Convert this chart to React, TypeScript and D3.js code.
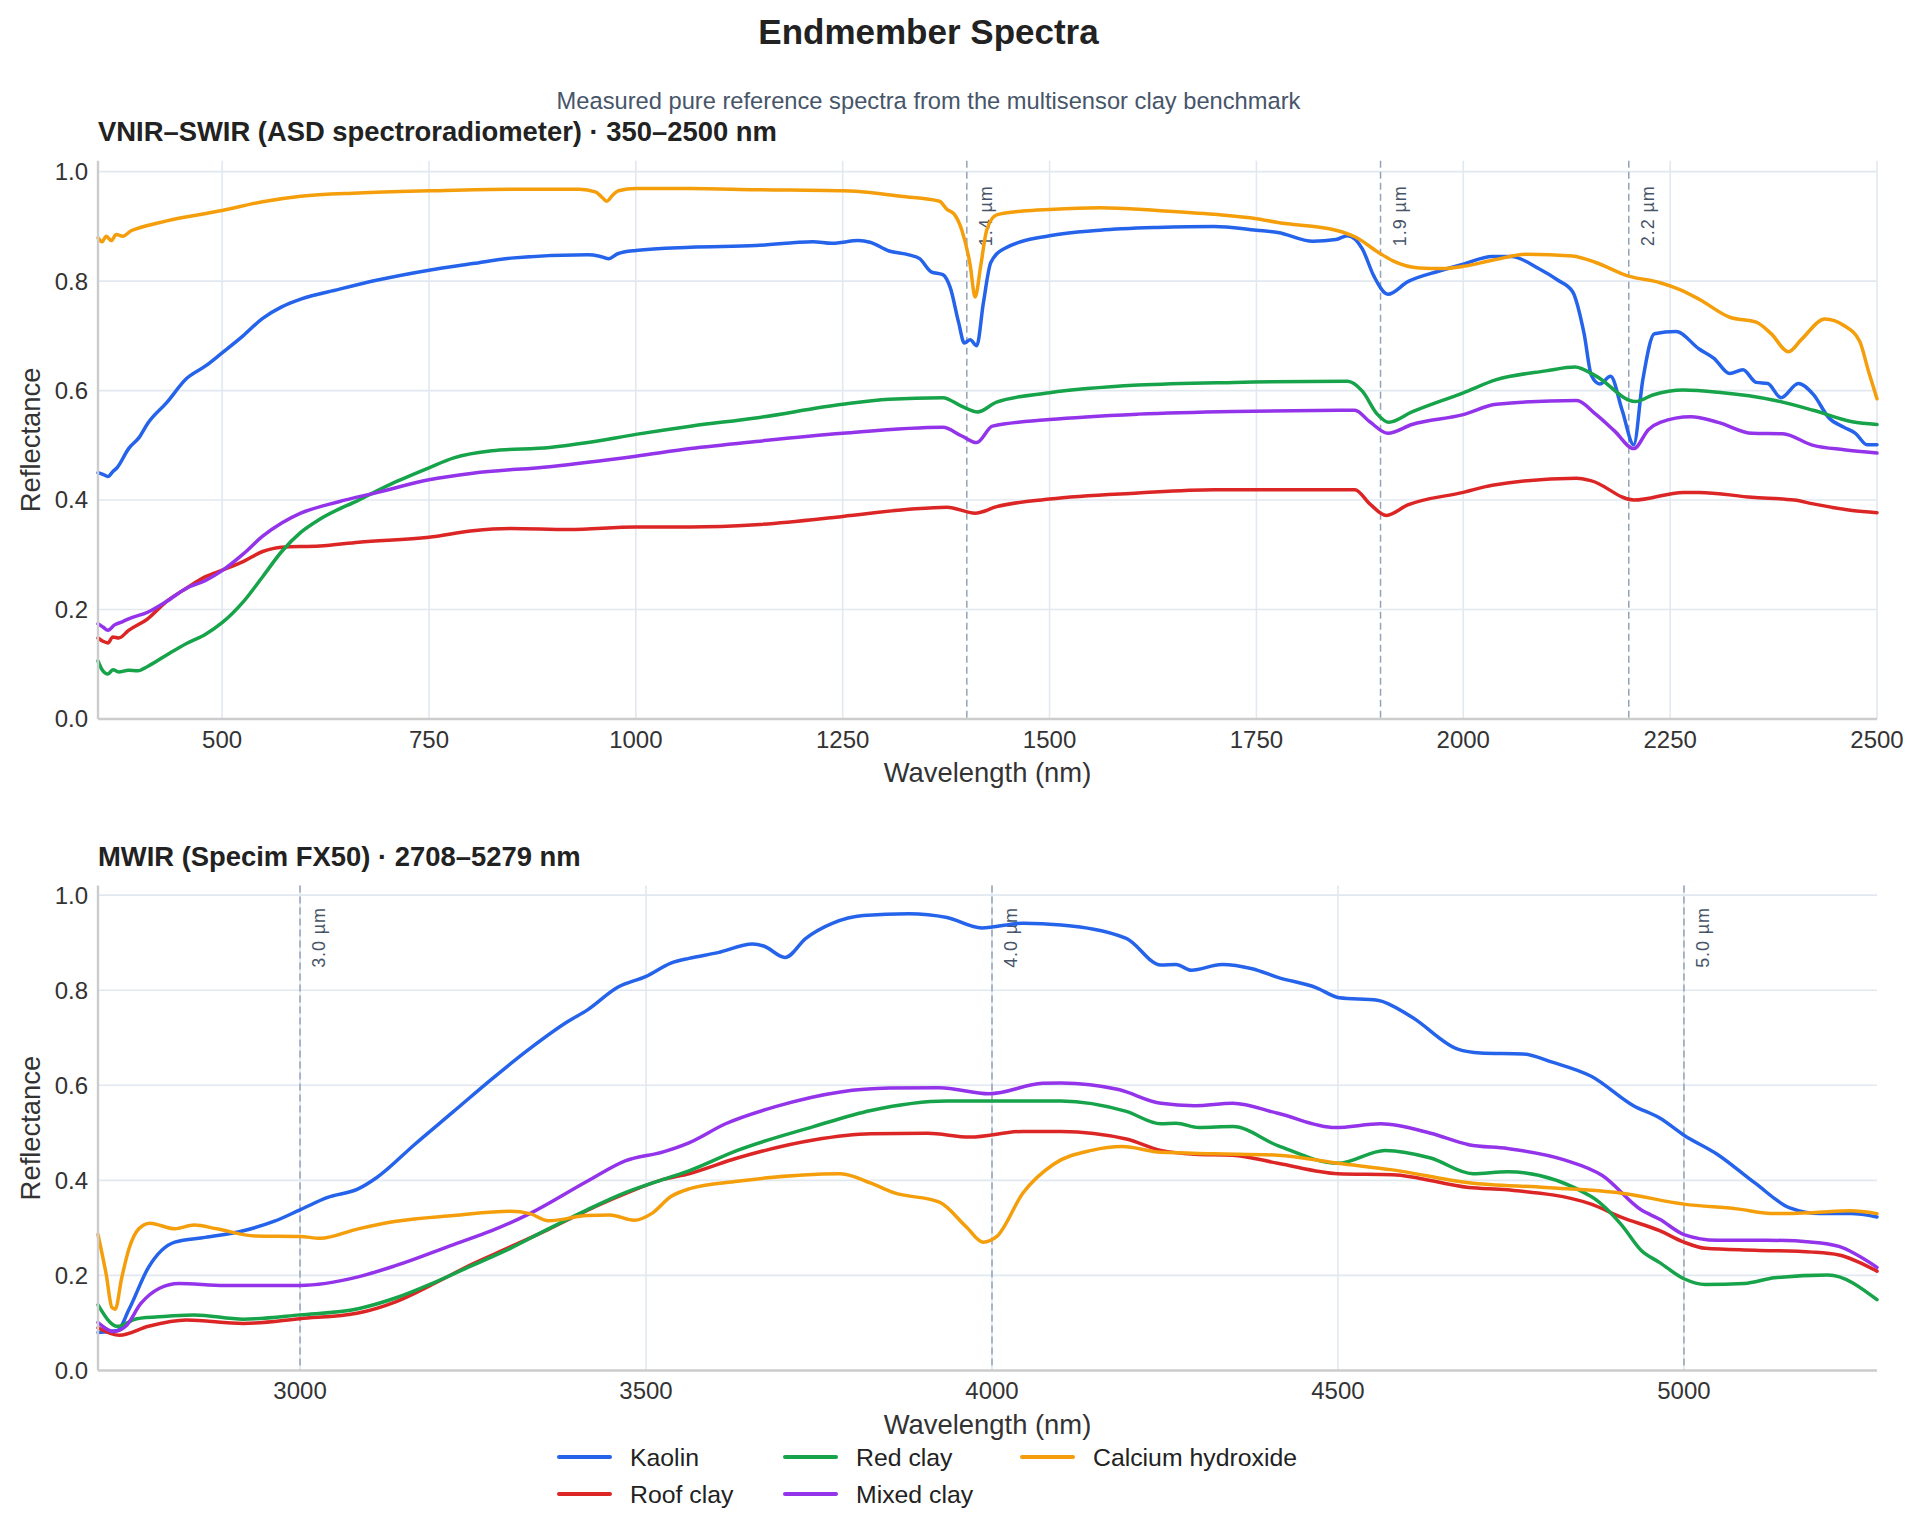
import * as d3 from 'd3';

type Pt = [number, number];

// ---- VNIR–SWIR spectra (ASD), wavelength nm / reflectance ----
const vnirKaolin: Pt[] = [
  [350, 0.450], [356, 0.447], [362, 0.443], [368, 0.452], [373, 0.459], [387, 0.494], [400, 0.515],
  [410, 0.540], [433, 0.578], [457, 0.622], [480, 0.645], [500, 0.669], [526, 0.701], [549, 0.732],
  [572, 0.753], [595, 0.767], [641, 0.785], [688, 0.802], [750, 0.820], [803, 0.832], [849, 0.842],
  [942, 0.848], [955, 0.846], [967, 0.841], [978, 0.850], [1000, 0.856], [1066, 0.862], [1145, 0.865],
  [1214, 0.872], [1237, 0.869], [1269, 0.874], [1283, 0.871], [1306, 0.855], [1330, 0.848], [1343, 0.841],
  [1357, 0.817], [1371, 0.812], [1380, 0.788], [1390, 0.725], [1397, 0.687], [1404, 0.693], [1412, 0.682],
  [1420, 0.760], [1429, 0.834], [1445, 0.859], [1500, 0.883], [1561, 0.893], [1630, 0.898], [1699, 0.900],
  [1750, 0.893], [1776, 0.889], [1818, 0.873], [1846, 0.876], [1860, 0.883], [1878, 0.859], [1892, 0.809],
  [1909, 0.776], [1933, 0.799], [1970, 0.818], [2000, 0.831], [2035, 0.845], [2058, 0.845], [2091, 0.823],
  [2114, 0.802], [2132, 0.781], [2146, 0.704], [2155, 0.627], [2165, 0.612], [2178, 0.626], [2192, 0.564],
  [2206, 0.501], [2217, 0.620], [2231, 0.704], [2257, 0.708], [2285, 0.676], [2303, 0.659], [2322, 0.631],
  [2338, 0.638], [2354, 0.615], [2368, 0.613], [2384, 0.587], [2405, 0.613], [2423, 0.593], [2442, 0.550],
  [2460, 0.533], [2474, 0.522], [2488, 0.501], [2500, 0.501],
];

const vnirRoofClay: Pt[] = [
  [350, 0.148], [356, 0.142], [362, 0.139], [368, 0.150], [375, 0.148], [387, 0.162], [410, 0.183],
  [433, 0.215], [457, 0.239], [480, 0.260], [500, 0.272], [526, 0.288], [549, 0.306], [572, 0.314],
  [618, 0.316], [665, 0.323], [750, 0.332], [803, 0.344], [849, 0.348], [919, 0.346], [1000, 0.351],
  [1066, 0.351], [1145, 0.355], [1250, 0.370], [1330, 0.383], [1376, 0.387], [1410, 0.376], [1436, 0.388],
  [1500, 0.402], [1607, 0.413], [1699, 0.419], [1869, 0.419], [1887, 0.393], [1907, 0.372], [1933, 0.391],
  [2000, 0.414], [2035, 0.427], [2137, 0.440], [2155, 0.435], [2206, 0.400], [2266, 0.414], [2285, 0.414],
  [2349, 0.405], [2400, 0.400], [2423, 0.393], [2470, 0.381], [2500, 0.377],
];

const vnirRedClay: Pt[] = [
  [350, 0.106], [355, 0.090], [362, 0.082], [368, 0.090], [375, 0.086], [387, 0.089], [398, 0.088],
  [410, 0.096], [433, 0.117], [457, 0.138], [480, 0.155], [500, 0.176], [526, 0.215], [549, 0.260],
  [572, 0.306], [595, 0.341], [618, 0.365], [665, 0.400], [711, 0.434], [750, 0.459], [780, 0.477],
  [826, 0.490], [896, 0.496], [942, 0.505], [1000, 0.520], [1066, 0.535], [1145, 0.550], [1250, 0.575],
  [1306, 0.584], [1371, 0.587], [1394, 0.571], [1413, 0.561], [1436, 0.579], [1500, 0.596], [1607, 0.610],
  [1723, 0.615], [1860, 0.617], [1878, 0.599], [1896, 0.557], [1910, 0.542], [1938, 0.561], [2000, 0.596],
  [2040, 0.620], [2100, 0.636], [2135, 0.643], [2160, 0.627], [2208, 0.580], [2229, 0.592], [2266, 0.601],
  [2308, 0.597], [2377, 0.582], [2423, 0.564], [2470, 0.543], [2500, 0.538],
];

const vnirMixedClay: Pt[] = [
  [350, 0.174], [356, 0.168], [362, 0.162], [370, 0.172], [380, 0.178], [387, 0.183], [410, 0.195],
  [433, 0.215], [457, 0.239], [480, 0.253], [500, 0.271], [526, 0.302], [549, 0.334], [572, 0.358],
  [595, 0.376], [641, 0.397], [688, 0.414], [750, 0.437], [803, 0.449], [896, 0.461], [1000, 0.480],
  [1066, 0.494], [1145, 0.507], [1250, 0.522], [1371, 0.533], [1394, 0.517], [1412, 0.505], [1431, 0.535],
  [1500, 0.547], [1607, 0.557], [1723, 0.562], [1869, 0.564], [1887, 0.543], [1909, 0.522], [1938, 0.538],
  [2000, 0.556], [2040, 0.575], [2137, 0.582], [2160, 0.557], [2183, 0.526], [2206, 0.494], [2224, 0.529],
  [2238, 0.542], [2275, 0.552], [2308, 0.542], [2349, 0.522], [2386, 0.521], [2423, 0.500], [2460, 0.492],
  [2500, 0.486],
];

const vnirCalcium: Pt[] = [
  [350, 0.879], [355, 0.872], [360, 0.882], [366, 0.874], [372, 0.885], [380, 0.882], [390, 0.892],
  [397, 0.896], [433, 0.910], [500, 0.929], [549, 0.945], [595, 0.955], [665, 0.961], [750, 0.965],
  [849, 0.968], [932, 0.968], [951, 0.963], [958, 0.955], [965, 0.946], [972, 0.957], [979, 0.965],
  [1000, 0.969], [1066, 0.969], [1145, 0.967], [1250, 0.965], [1283, 0.962], [1320, 0.955], [1367, 0.946],
  [1376, 0.931], [1385, 0.922], [1394, 0.893], [1404, 0.830], [1410, 0.771], [1417, 0.830], [1424, 0.893],
  [1436, 0.921], [1468, 0.928], [1500, 0.931], [1561, 0.934], [1630, 0.929], [1699, 0.922], [1750, 0.914],
  [1776, 0.907], [1846, 0.893], [1869, 0.881], [1899, 0.851], [1915, 0.837], [1947, 0.824], [1975, 0.823],
  [2000, 0.827], [2035, 0.838], [2077, 0.849], [2132, 0.846], [2160, 0.834], [2200, 0.809], [2238, 0.797],
  [2261, 0.785], [2285, 0.767], [2322, 0.734], [2354, 0.725], [2372, 0.704], [2393, 0.671], [2409, 0.694],
  [2437, 0.731], [2460, 0.719], [2479, 0.690], [2490, 0.634], [2500, 0.585],
];

// ---- MWIR spectra (Specim FX50) ----
const mwirKaolin: Pt[] = [
  [2708, 0.080], [2736, 0.084], [2753, 0.129], [2781, 0.217], [2819, 0.270], [2863, 0.280], [2918, 0.294],
  [2963, 0.314], [3000, 0.338], [3040, 0.364], [3084, 0.382], [3111, 0.406], [3166, 0.476], [3222, 0.545],
  [3277, 0.613], [3332, 0.677], [3387, 0.734], [3415, 0.758], [3459, 0.806], [3500, 0.829], [3536, 0.857],
  [3562, 0.867], [3604, 0.879], [3654, 0.897], [3670, 0.893], [3701, 0.869], [3731, 0.909], [3770, 0.941],
  [3814, 0.957], [3880, 0.961], [3935, 0.953], [3985, 0.931], [4045, 0.941], [4100, 0.937], [4194, 0.909],
  [4244, 0.853], [4266, 0.854], [4288, 0.842], [4332, 0.854], [4376, 0.845], [4413, 0.827], [4469, 0.805],
  [4502, 0.784], [4557, 0.779], [4606, 0.744], [4673, 0.676], [4706, 0.668], [4767, 0.666], [4811, 0.648],
  [4866, 0.619], [4927, 0.557], [4965, 0.531], [5000, 0.495], [5048, 0.455], [5103, 0.394], [5153, 0.342],
  [5197, 0.330], [5241, 0.330], [5279, 0.323],
];

const mwirRoofClay: Pt[] = [
  [2708, 0.090], [2739, 0.074], [2781, 0.093], [2836, 0.106], [2918, 0.099], [3000, 0.109], [3084, 0.121],
  [3139, 0.145], [3194, 0.183], [3249, 0.224], [3304, 0.260], [3359, 0.297], [3415, 0.337], [3470, 0.372],
  [3525, 0.402], [3562, 0.414], [3632, 0.447], [3742, 0.485], [3825, 0.498], [3907, 0.499], [3968, 0.491],
  [4045, 0.503], [4100, 0.503], [4194, 0.487], [4244, 0.463], [4293, 0.455], [4348, 0.453], [4413, 0.436],
  [4500, 0.414], [4579, 0.412], [4689, 0.385], [4745, 0.380], [4866, 0.350], [4910, 0.322], [4965, 0.294],
  [5000, 0.270], [5031, 0.257], [5103, 0.253], [5186, 0.249], [5224, 0.243], [5279, 0.209],
];

const mwirRedClay: Pt[] = [
  [2708, 0.138], [2736, 0.093], [2764, 0.109], [2808, 0.114], [2847, 0.117], [2918, 0.108], [3000, 0.117],
  [3084, 0.130], [3139, 0.153], [3194, 0.185], [3249, 0.221], [3304, 0.257], [3359, 0.298], [3415, 0.338],
  [3470, 0.374], [3525, 0.402], [3562, 0.420], [3632, 0.463], [3742, 0.513], [3825, 0.547], [3935, 0.567],
  [4045, 0.567], [4100, 0.567], [4194, 0.545], [4244, 0.519], [4266, 0.520], [4299, 0.511], [4348, 0.513],
  [4413, 0.473], [4500, 0.436], [4568, 0.463], [4634, 0.447], [4695, 0.414], [4745, 0.418], [4866, 0.366],
  [4910, 0.306], [4938, 0.253], [4965, 0.227], [5000, 0.193], [5031, 0.181], [5087, 0.183], [5131, 0.195],
  [5208, 0.201], [5279, 0.149],
];

const mwirMixedClay: Pt[] = [
  [2708, 0.101], [2731, 0.082], [2748, 0.093], [2770, 0.141], [2797, 0.173], [2825, 0.183], [2891, 0.179],
  [3000, 0.179], [3084, 0.197], [3139, 0.221], [3222, 0.265], [3277, 0.294], [3332, 0.330], [3415, 0.398],
  [3470, 0.441], [3525, 0.460], [3562, 0.479], [3615, 0.519], [3687, 0.555], [3781, 0.586], [3852, 0.594],
  [3924, 0.595], [3996, 0.582], [4073, 0.604], [4100, 0.605], [4183, 0.591], [4244, 0.562], [4293, 0.557],
  [4348, 0.562], [4413, 0.541], [4496, 0.511], [4562, 0.519], [4634, 0.499], [4689, 0.475], [4745, 0.467],
  [4827, 0.443], [4882, 0.410], [4938, 0.338], [4965, 0.318], [5000, 0.286], [5048, 0.274], [5120, 0.274],
  [5186, 0.270], [5224, 0.261], [5279, 0.217],
];

const mwirCalcium: Pt[] = [
  [2708, 0.286], [2720, 0.201], [2728, 0.133], [2733, 0.129], [2742, 0.193], [2753, 0.257], [2767, 0.298],
  [2783, 0.310], [2819, 0.298], [2847, 0.306], [2880, 0.298], [2935, 0.283], [3000, 0.282], [3029, 0.278],
  [3084, 0.298], [3139, 0.314], [3222, 0.326], [3304, 0.335], [3332, 0.330], [3359, 0.315], [3415, 0.326],
  [3448, 0.327], [3483, 0.316], [3508, 0.330], [3536, 0.366], [3562, 0.382], [3632, 0.398], [3781, 0.414],
  [3825, 0.394], [3858, 0.374], [3924, 0.354], [3963, 0.302], [3987, 0.270], [4007, 0.282], [4045, 0.374],
  [4089, 0.434], [4144, 0.463], [4188, 0.471], [4244, 0.459], [4321, 0.456], [4413, 0.453], [4500, 0.436],
  [4579, 0.422], [4689, 0.395], [4800, 0.385], [4910, 0.373], [5000, 0.350], [5076, 0.340], [5131, 0.330],
  [5186, 0.332], [5241, 0.336], [5279, 0.330],
];

// legend / plotting order
const sampleNames = ['Kaolin', 'Roof clay', 'Red clay', 'Mixed clay', 'Calcium hydroxide'];
const sampleColors = ['#2563eb', '#dc2626', '#16a34a', '#9333ea', '#f59e0b'];
const vnirSeries = [vnirKaolin, vnirRoofClay, vnirRedClay, vnirMixedClay, vnirCalcium];
const mwirSeries = [mwirKaolin, mwirRoofClay, mwirRedClay, mwirMixedClay, mwirCalcium];

const vnirTicks = [500, 750, 1000, 1250, 1500, 1750, 2000, 2250, 2500];
const mwirTicks = [3000, 3500, 4000, 4500, 5000];
const reflTicks = [0, 0.2, 0.4, 0.6, 0.8, 1.0];

const vnirMarkers = [1400, 1900, 2200];
const vnirMarkerLabels = ['1.4 µm', '1.9 µm', '2.2 µm'];
const mwirMarkers = [3000, 4000, 5000];
const mwirMarkerLabels = ['3.0 µm', '4.0 µm', '5.0 µm'];

const W = 1925;
const H = 1535;
const LEFT = 98;
const RIGHT = 1877;
const FONT = '"Liberation Sans", Arial, Helvetica, sans-serif';

type PanelProps = {
  title: string;
  domain: [number, number];
  ticks: number[];
  series: Pt[][];
  markers: number[];
  markerLabels: string[];
  top: number;
  bottom: number;
};

function Panel({ title, domain, ticks, series, markers, markerLabels, top, bottom }: PanelProps) {
  const x = d3.scaleLinear().domain(domain).range([LEFT, RIGHT]);
  const y = d3.scaleLinear().domain([0, 1.02]).range([bottom, top]);
  const line = d3
    .line<Pt>()
    .x((d) => x(d[0]))
    .y((d) => y(d[1]))
    .curve(d3.curveMonotoneX);

  return (
    <g>
      <text x={LEFT} y={top - 19.5} fontSize={27.4} fontWeight="bold" fill="#222">
        {title}
      </text>

      {/* grid */}
      {reflTicks.map((t) => (
        <line key={'gy' + t} x1={LEFT} x2={RIGHT} y1={y(t)} y2={y(t)} stroke="#e2e8f0" strokeWidth={1.6} />
      ))}
      {ticks.map((t) => (
        <line key={'gx' + t} x1={x(t)} x2={x(t)} y1={top} y2={bottom} stroke="#e2e8f0" strokeWidth={1.6} />
      ))}

      {/* absorption feature markers */}
      {markers.map((m, i) => (
        <g key={'m' + m}>
          <line x1={x(m)} x2={x(m)} y1={top} y2={bottom} stroke="#94a3b8" strokeWidth={1.5} strokeDasharray="7,4" />
          <text
            transform={`translate(${x(m) + 25},${y(0.975)}) rotate(-90)`}
            textAnchor="end"
            fontSize={18}
            letterSpacing={0.9}
            fill="#475569"
          >
            {markerLabels[i]}
          </text>
        </g>
      ))}

      {/* spectra */}
      {series.map((s, i) => (
        <path
          key={sampleNames[i]}
          d={line(s) ?? ''}
          fill="none"
          stroke={sampleColors[i]}
          strokeWidth={3.5}
          strokeLinejoin="round"
          strokeLinecap="round"
        />
      ))}

      {/* spines */}
      <line x1={LEFT} x2={LEFT} y1={top} y2={bottom} stroke="#cccccc" strokeWidth={2.4} />
      <line x1={LEFT} x2={RIGHT} y1={bottom} y2={bottom} stroke="#cccccc" strokeWidth={2.4} />

      {/* tick labels */}
      {reflTicks.map((t) => (
        <text key={'ty' + t} x={88} y={y(t)} dy="0.35em" textAnchor="end" fontSize={24} fill="#333">
          {t.toFixed(1)}
        </text>
      ))}
      {ticks.map((t) => (
        <text key={'tx' + t} x={x(t)} y={bottom + 28.5} textAnchor="middle" fontSize={24} fill="#333">
          {t}
        </text>
      ))}

      <text x={(LEFT + RIGHT) / 2} y={bottom + 63} textAnchor="middle" fontSize={27.4} fill="#333">
        Wavelength (nm)
      </text>
      <text
        transform={`translate(40,${(top + bottom) / 2}) rotate(-90)`}
        textAnchor="middle"
        fontSize={27.4}
        fill="#333"
      >
        Reflectance
      </text>
    </g>
  );
}

function Legend() {
  // three columns, filled column by column
  const colX = [557, 783, 1020];
  const rowY = [1457, 1494];
  return (
    <g>
      {sampleNames.map((name, i) => {
        const cx = colX[Math.floor(i / 2)];
        const cy = rowY[i % 2];
        return (
          <g key={name}>
            <line x1={cx + 2} x2={cx + 53} y1={cy} y2={cy} stroke={sampleColors[i]} strokeWidth={4} strokeLinecap="round" />
            <text x={cx + 73} y={cy} dy="0.35em" fontSize={24.8} fill="#222">
              {name}
            </text>
          </g>
        );
      })}
    </g>
  );
}

export default function App() {
  return (
    <div style={{ position: 'absolute', left: 0, top: 0, width: W, height: H, overflow: 'hidden', background: '#fff' }}>
      <svg width={W} height={H} style={{ display: 'block', fontFamily: FONT }}>
        <rect width={W} height={H} fill="#fff" />
        <text x={W / 2 - 34} y={44} textAnchor="middle" fontSize={35} fontWeight="bold" fill="#222">
          Endmember Spectra
        </text>
        <text x={W / 2 - 34} y={109} textAnchor="middle" fontSize={23.7} fill="#475569">
          Measured pure reference spectra from the multisensor clay benchmark
        </text>

        <Panel
          title="VNIR–SWIR (ASD spectroradiometer) · 350–2500 nm"
          domain={[350, 2500]}
          ticks={vnirTicks}
          series={vnirSeries}
          markers={vnirMarkers}
          markerLabels={vnirMarkerLabels}
          top={160.7}
          bottom={719}
        />
        <Panel
          title="MWIR (Specim FX50) · 2708–5279 nm"
          domain={[2708, 5279]}
          ticks={mwirTicks}
          series={mwirSeries}
          markers={mwirMarkers}
          markerLabels={mwirMarkerLabels}
          top={885.6}
          bottom={1370.5}
        />
        <Legend />
      </svg>
    </div>
  );
}
